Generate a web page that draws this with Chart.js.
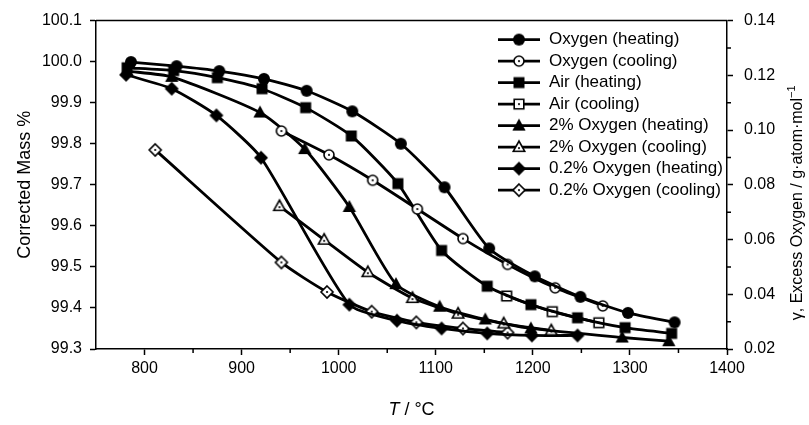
<!DOCTYPE html>
<html>
<head>
<meta charset="utf-8">
<script src="https://cdn.jsdelivr.net/npm/chart.js@4.4.1/dist/chart.umd.min.js"></script>
<style>
  html, body { margin: 0; padding: 0; background: #fff; }
  #wrap { width: 809px; height: 425px; }
</style>
</head>
<body>
<div id="wrap"><canvas id="myChart" width="809" height="425"></canvas></div>
<script>
// temperatures (°C) and corrected mass (%)
var oxyHeatT    = [786, 833, 877, 923, 967, 1014, 1064, 1109, 1155, 1202, 1249, 1298, 1346];
var oxyHeatM    = [99.999, 99.989, 99.977, 99.958, 99.929, 99.879, 99.800, 99.694, 99.545, 99.477, 99.427, 99.388, 99.365];
var oxyCoolT    = [941, 990, 1035, 1081, 1128, 1174, 1223, 1272];
var oxyCoolM    = [99.831, 99.773, 99.711, 99.641, 99.569, 99.506, 99.449, 99.405];
var airHeatT    = [782, 830, 875, 921, 966, 1013, 1061, 1106, 1153, 1198, 1246, 1295, 1343];
var airHeatM    = [99.985, 99.978, 99.961, 99.934, 99.888, 99.819, 99.703, 99.540, 99.453, 99.408, 99.376, 99.352, 99.338];
var airCoolT    = [1173, 1220, 1268];
var airCoolM    = [99.429, 99.391, 99.364];
var o2HeatT     = [782, 828, 919, 965, 1011, 1059, 1104, 1151, 1198, 1292, 1340];
var o2HeatM     = [99.977, 99.963, 99.876, 99.787, 99.646, 99.458, 99.403, 99.372, 99.350, 99.328, 99.319];
var o2CoolT     = [939, 985, 1030, 1076, 1123, 1170, 1219];
var o2CoolM     = [99.648, 99.566, 99.487, 99.424, 99.386, 99.362, 99.345];
var o02HeatT    = [781, 828, 874, 920, 1011, 1060, 1106, 1153, 1199, 1246];
var o02HeatM    = [99.968, 99.934, 99.869, 99.766, 99.408, 99.369, 99.350, 99.338, 99.333, 99.333];
var o02CoolT    = [811, 941, 988, 1034, 1080, 1128, 1174];
var o02CoolM    = [99.785, 99.511, 99.439, 99.391, 99.365, 99.350, 99.340];

var seriesNames = ['Oxygen (heating)', 'Oxygen (cooling)', 'Air (heating)', 'Air (cooling)',
                   '2% Oxygen (heating)', '2% Oxygen (cooling)', '0.2% Oxygen (heating)', '0.2% Oxygen (cooling)'];

var xTicks  = [800, 900, 1000, 1100, 1200, 1300, 1400];
var yTicks  = [99.3, 99.4, 99.5, 99.6, 99.7, 99.8, 99.9, 100.0, 100.1];
var y2Ticks = [0.02, 0.04, 0.06, 0.08, 0.10, 0.12, 0.14];

var FONT = "'Liberation Sans', Arial, sans-serif";
Chart.defaults.font.family = FONT;
Chart.defaults.color = '#000';

// marker images: shape + filled or open-with-dot
function makeMarker(shape, filled) {
    var c = document.createElement('canvas');
    c.width = 18; c.height = 18;
    var g = c.getContext('2d');
    g.translate(9, 9);
    g.beginPath();
    if (shape == 'circle') {
        g.arc(0, 0, filled ? 6 : 5, 0, Math.PI * 2);
    } else if (shape == 'square') {
        var s = filled ? 5.5 : 4.8;
        g.rect(-s, -s, 2 * s, 2 * s);
    } else if (shape == 'triangle') {
        var t = filled ? 7 : 6;
        g.moveTo(0, -t); g.lineTo(t * 0.95, t * 0.7); g.lineTo(-t * 0.95, t * 0.7); g.closePath();
    } else {
        var d = filled ? 7 : 6;
        g.moveTo(0, -d); g.lineTo(d, 0); g.lineTo(0, d); g.lineTo(-d, 0); g.closePath();
    }
    if (filled) {
        g.fillStyle = '#000'; g.fill();
    } else {
        g.fillStyle = '#fff'; g.fill();
        g.lineWidth = 1.6; g.strokeStyle = '#000'; g.stroke();
        g.beginPath(); g.arc(0, shape == 'triangle' ? 1 : 0, 1.1, 0, Math.PI * 2);
        g.fillStyle = '#000'; g.fill();
    }
    return c;
}

var markers = [
    makeMarker('circle', true), makeMarker('circle', false),
    makeMarker('square', true), makeMarker('square', false),
    makeMarker('triangle', true), makeMarker('triangle', false),
    makeMarker('diamond', true), makeMarker('diamond', false)
];

function pts(t, m) {
    var out = [];
    for (var i = 0; i < t.length; i++) out.push({x: t[i], y: m[i]});
    return out;
}

var allData = [
    pts(oxyHeatT, oxyHeatM), pts(oxyCoolT, oxyCoolM),
    pts(airHeatT, airHeatM), pts(airCoolT, airCoolM),
    pts(o2HeatT, o2HeatM), pts(o2CoolT, o2CoolM),
    pts(o02HeatT, o02HeatM), pts(o02CoolT, o02CoolM)
];

var datasets = [];
for (var i = 0; i < allData.length; i++) {
    datasets.push({
        label: seriesNames[i],
        data: allData[i],
        borderColor: '#000',
        borderWidth: 2.8,
        pointStyle: markers[i],
        pointRadius: 6,
        tension: 0.2,
        yAxisID: 'y'
    });
}

// extra drawing: top border, minor ticks, custom legend, right and bottom titles
var decorPlugin = {
    id: 'decor',
    afterDraw: function(chart) {
        var ctx = chart.ctx, a = chart.chartArea;
        var xs = chart.scales.x, y2 = chart.scales.y2;
        ctx.save();
        ctx.strokeStyle = '#000';
        ctx.lineWidth = 1.5;
        ctx.beginPath();
        ctx.moveTo(a.left, a.top); ctx.lineTo(a.right, a.top);
        // minor ticks
        for (var v = 850; v < 1400; v += 100) {
            var px = xs.getPixelForValue(v);
            ctx.moveTo(px, a.bottom); ctx.lineTo(px, a.bottom + 4);
        }
        for (var w = 0.03; w < 0.14; w += 0.02) {
            var py = y2.getPixelForValue(w);
            ctx.moveTo(a.right, py); ctx.lineTo(a.right + 4, py);
        }
        ctx.stroke();

        // legend
        ctx.font = '17px ' + FONT;
        ctx.textBaseline = 'middle';
        ctx.textAlign = 'left';
        ctx.fillStyle = '#000';
        for (var i = 0; i < seriesNames.length; i++) {
            var ly = a.top + 19 + i * 21.5;
            var lx = a.right - 229;
            ctx.lineWidth = 2.8;
            ctx.beginPath(); ctx.moveTo(lx, ly); ctx.lineTo(lx + 42, ly); ctx.stroke();
            var mk = markers[i];
            ctx.drawImage(mk, lx + 21 - mk.width / 2, ly - mk.height / 2);
            ctx.fillText(seriesNames[i], a.right - 178, ly);
        }

        // bottom title with italic T
        ctx.font = '18px ' + FONT;
        var rest = ' / °C';
        var wRest = ctx.measureText(rest).width;
        ctx.font = 'italic 18px ' + FONT;
        var wT = ctx.measureText('T').width;
        var cx = (a.left + a.right) / 2;
        var sx = cx - (wT + wRest) / 2;
        ctx.textBaseline = 'middle';
        ctx.fillText('T', sx, 410);
        ctx.font = '18px ' + FONT;
        ctx.fillText(rest, sx + wT, 410);

        // right title, reading bottom to top
        ctx.translate(798, (a.top + a.bottom) / 2 + 18);
        ctx.rotate(-Math.PI / 2);
        ctx.font = '16px ' + FONT;
        var main = 'γ, Excess Oxygen / g·atom·mol';
        var wm = ctx.measureText(main).width;
        ctx.font = '11px ' + FONT;
        var ws = ctx.measureText('−1').width;
        var start = -(wm + ws) / 2;
        ctx.font = '16px ' + FONT;
        ctx.fillText(main, start, 0);
        ctx.font = '11px ' + FONT;
        ctx.fillText('−1', start + wm, -6);
        ctx.restore();
    }
};

var ctx = document.getElementById('myChart').getContext('2d');
var myChart = new Chart(ctx, {
    type: 'line',
    data: { datasets: datasets },
    plugins: [decorPlugin],
    options: {
        responsive: false,
        animation: false,
        layout: { padding: { top: 16, left: 0, right: 0, bottom: 0 } },
        plugins: { legend: { display: false }, tooltip: { enabled: false } },
        scales: {
            x: {
                type: 'linear',
                min: 750, max: 1400,
                afterBuildTicks: function(s) { s.ticks = xTicks.map(function(v) { return {value: v}; }); },
                afterFit: function(s) { s.height = 76; },
                border: { color: '#000', width: 1.5 },
                grid: { drawOnChartArea: false, tickLength: 6, tickColor: '#000', tickWidth: 1.5 },
                ticks: { font: { size: 16 }, padding: 4, maxRotation: 0, color: '#000',
                         callback: function(v) { return String(v); } }
            },
            y: {
                position: 'left',
                min: 99.3, max: 100.1,
                afterBuildTicks: function(s) { s.ticks = yTicks.map(function(v) { return {value: v}; }); },
                afterFit: function(s) { s.width = 96; },
                border: { color: '#000', width: 1.5 },
                grid: { drawOnChartArea: false, tickLength: 6, tickColor: '#000', tickWidth: 1.5 },
                ticks: { font: { size: 16 }, padding: 8, color: '#000',
                         callback: function(v) { return v.toFixed(1); } },
                title: { display: true, text: 'Corrected Mass %', font: { size: 18 }, padding: { top: 14 }, color: '#000' }
            },
            y2: {
                position: 'right',
                min: 0.02, max: 0.14,
                afterBuildTicks: function(s) { s.ticks = y2Ticks.map(function(v) { return {value: v}; }); },
                afterFit: function(s) { s.width = 82; },
                border: { color: '#000', width: 1.5 },
                grid: { drawOnChartArea: false, tickLength: 6, tickColor: '#000', tickWidth: 1.5 },
                ticks: { font: { size: 16 }, padding: 11, color: '#000',
                         callback: function(v) { return v.toFixed(2); } }
            }
        }
    }
});
</script>
</body>
</html>
